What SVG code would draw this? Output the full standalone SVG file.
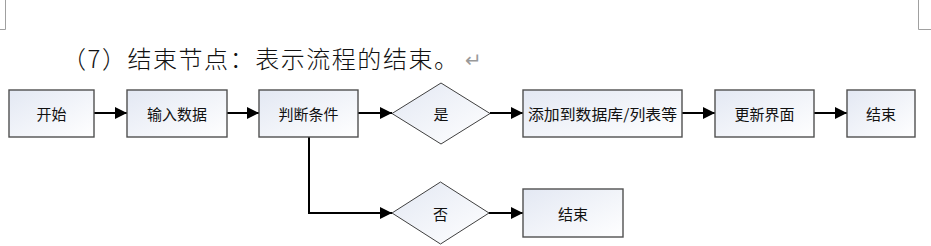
<svg xmlns="http://www.w3.org/2000/svg" width="931" height="246" viewBox="0 0 931 246">
<defs>
<style>
.box{stroke:#505050;stroke-width:1.4;fill:url(#g)}
.dia{stroke:#404040;stroke-width:1;fill:url(#g)}
.lbl{font-family:"Noto Sans CJK SC","Microsoft YaHei",sans-serif;font-size:15px;fill:#111;text-anchor:middle;dominant-baseline:central}
.con{stroke:#000;stroke-width:2;fill:none;marker-end:url(#arr)}
.mark{stroke:#a0a0a0;stroke-width:1;fill:none}
</style>
<linearGradient id="g" x1="0" y1="0" x2="1" y2="1">
<stop offset="0" stop-color="#e3e8f3"/>
<stop offset="1" stop-color="#ffffff"/>
</linearGradient>
<marker id="arr" markerUnits="userSpaceOnUse" markerWidth="12" markerHeight="12" refX="12" refY="6" orient="auto">
<path d="M0,0 L12,6 L0,12 z" fill="#000"/>
</marker>
</defs>
<rect width="931" height="246" fill="#fff"/>
<path class="mark" d="M5.5,0 V29.5 H0"/>
<path class="mark" d="M918.5,0 V29.5 H931"/>
<text x="62" y="68" font-family="'Noto Sans CJK SC',serif" font-size="24" font-weight="300" fill="#111" textLength="396" lengthAdjust="spacing">（7）结束节点：表示流程的结束。</text>
<text x="465" y="67" font-family="'DejaVu Sans',sans-serif" font-size="20" fill="#999">↵</text>
<g id="connectors">
<path class="con" d="M94,113 H127"/>
<path class="con" d="M227,113 H259"/>
<path class="con" d="M358,113 H392"/>
<path class="con" d="M490,113 H523"/>
<path class="con" d="M682,113 H715"/>
<path class="con" d="M814,113 H847"/>
<path class="con" d="M309,137 V213 H392"/>
<path class="con" d="M489,213 H523"/>
</g>
<g id="n1"><rect class="box" x="9" y="90" width="85" height="47"/><text class="lbl" x="51.5" y="113.5">开始</text></g>
<g id="n2"><rect class="box" x="127" y="90" width="100" height="47"/><text class="lbl" x="177" y="113.5">输入数据</text></g>
<g id="n3"><rect class="box" x="259" y="90" width="99" height="47"/><text class="lbl" x="308.5" y="113.5">判断条件</text></g>
<g id="n4"><path class="dia" d="M392,113.5 L441,83 L490,113.5 L441,144 z"/><text class="lbl" x="441" y="113.5">是</text></g>
<g id="n5"><rect class="box" x="523" y="90" width="159" height="47"/><text class="lbl" x="602.5" y="113.5" textLength="149" lengthAdjust="spacingAndGlyphs">添加到数据库/列表等</text></g>
<g id="n6"><rect class="box" x="715" y="90" width="99" height="47"/><text class="lbl" x="764.5" y="113.5">更新界面</text></g>
<g id="n7"><rect class="box" x="847" y="90" width="68" height="47"/><text class="lbl" x="881" y="113.5">结束</text></g>
<g id="n8"><path class="dia" d="M392,213 L440.5,182 L489,213 L440.5,244 z"/><text class="lbl" x="440.5" y="213">否</text></g>
<g id="n9"><rect class="box" x="523" y="189" width="100" height="48"/><text class="lbl" x="573" y="213">结束</text></g>
</svg>
